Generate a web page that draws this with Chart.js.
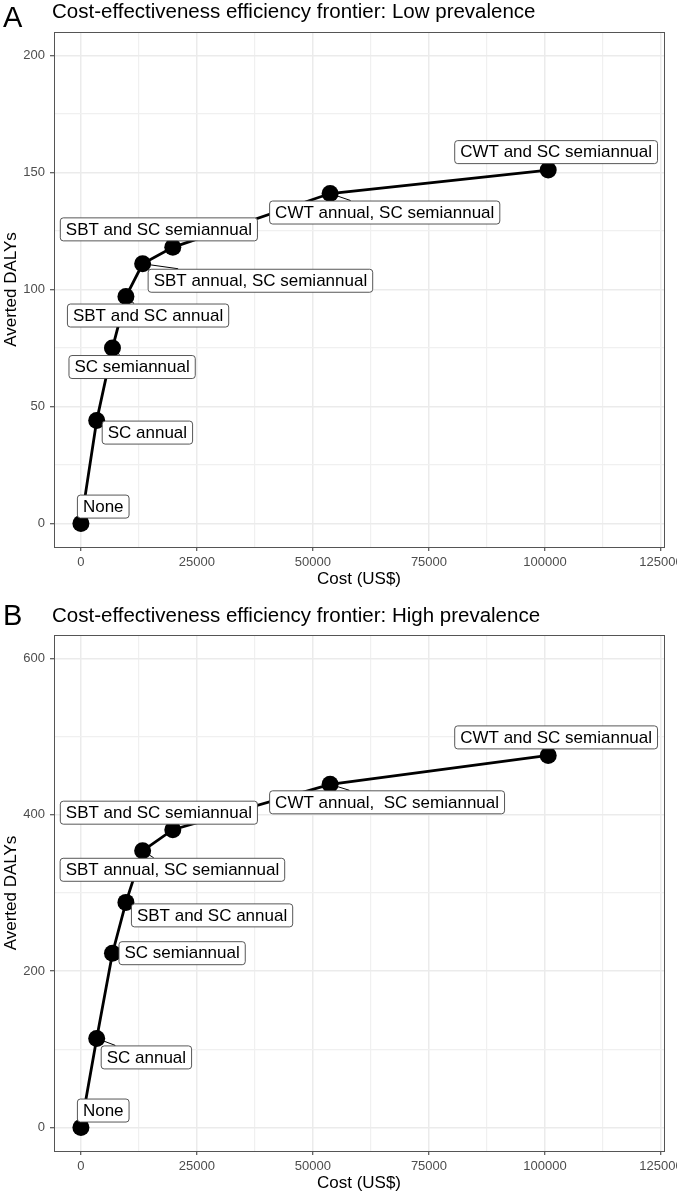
<!DOCTYPE html>
<html>
<head>
<meta charset="utf-8">
<script src="https://cdn.jsdelivr.net/npm/chart.js@4/dist/chart.umd.min.js"></script>
<style>
  html, body { margin: 0; padding: 0; background: #fff; overflow: hidden; width: 677px; height: 1196px; }
  canvas { display: block; }
</style>
</head>
<body>
<canvas id="panelA" width="690" height="592" style="width:690px;height:592px"></canvas>
<canvas id="panelB" width="690" height="604" style="width:690px;height:604px"></canvas>
<script>
// strategies on the efficiency frontier (cost in US$, averted DALYs)
const strategiesLow = ['None', 'SC annual', 'SC semiannual', 'SBT and SC annual',
  'SBT annual, SC semiannual', 'SBT and SC semiannual', 'CWT annual, SC semiannual', 'CWT and SC semiannual'];
const strategiesHigh = ['None', 'SC annual', 'SC semiannual', 'SBT and SC annual',
  'SBT annual, SC semiannual', 'SBT and SC semiannual', 'CWT annual,  SC semiannual', 'CWT and SC semiannual'];
const costUSD = [0, 3400, 6800, 9700, 13300, 19800, 53700, 100700];
const dalysLow = [0, 44, 75, 97, 111, 118, 141, 151];
const dalysHigh = [0, 114, 223, 288, 354, 381, 439, 476];

const xMajor = [0, 25000, 50000, 75000, 100000, 125000];
const xMinor = [12500, 37500, 62500, 87500, 112500];
const yMajorLow = [0, 50, 100, 150, 200];
const yMinorLow = [25, 75, 125, 175];
const yMajorHigh = [0, 200, 400, 600];
const yMinorHigh = [100, 300, 500];

// where ggrepel put each label box: offset of its top-left corner from the point, px
const labelOffsetLow = [[-4, -29], [5, 0], [-44, 7], [-59, 7], [5, 5], [-113, -30], [-61, 7], [-94, -30]];
const labelOffsetHigh = [[-4, -29], [4, 7], [6, -12], [5, 1], [-83, 7], [-113, -29], [-61, 6], [-94, -30]];

const FONT = '"Liberation Sans", Arial, Helvetica, sans-serif';
Chart.defaults.font.family = FONT;
Chart.defaults.color = '#4D4D4D';

function ticksFrom(major, minor) {
  return major.concat(minor).sort((a, b) => a - b).map(v => ({ value: v }));
}

const frontierLabels = {
  id: 'frontierLabels',
  afterDatasetsDraw(chart, args, opts) {
    const { ctx, scales: { x, y } } = chart;
    const ds = chart.data.datasets[0].data;
    ctx.save();
    ctx.font = '17px ' + FONT;
    ctx.textBaseline = 'middle';
    opts.labels.forEach((txt, i) => {
      const px = x.getPixelForValue(ds[i].x);
      const py = y.getPixelForValue(ds[i].y);
      const w = ctx.measureText(txt).width + 11;
      const h = 23;
      const l = px + opts.offsets[i][0];
      const t = py + opts.offsets[i][1];
      // leader segment toward the box centre, clipped at the box edge
      const cx = l + w / 2, cy = t + h / 2;
      const dx = cx - px, dy = cy - py;
      const inside = px >= l && px <= l + w && py >= t && py <= t + h;
      if (!inside) {
        let tt = 1;
        if (dx !== 0) {
          const ex = dx > 0 ? l : l + w;
          const tx = (ex - px) / dx;
          const yy = py + tx * dy;
          if (tx > 0 && yy >= t && yy <= t + h) tt = Math.min(tt, tx);
        }
        if (dy !== 0) {
          const ey = dy > 0 ? t : t + h;
          const ty = (ey - py) / dy;
          const xx = px + ty * dx;
          if (ty > 0 && xx >= l && xx <= l + w) tt = Math.min(tt, ty);
        }
        ctx.beginPath();
        ctx.moveTo(px, py);
        ctx.lineTo(px + tt * dx, py + tt * dy);
        ctx.strokeStyle = '#000';
        ctx.lineWidth = 1;
        ctx.stroke();
      }
      ctx.beginPath();
      ctx.roundRect(l + 0.5, t + 0.5, w, h, 3);
      ctx.fillStyle = '#fff';
      ctx.fill();
      ctx.strokeStyle = '#444';
      ctx.lineWidth = 0.9;
      ctx.stroke();
      ctx.fillStyle = '#000';
      ctx.textAlign = 'left';
      ctx.fillText(txt, l + 6, t + h / 2 + 1);
    });
    ctx.restore();
  },
  afterDraw(chart, args, opts) {
    const { ctx, chartArea: a } = chart;
    ctx.save();
    ctx.strokeStyle = '#555';
    ctx.lineWidth = 1;
    ctx.strokeRect(a.left + 0.5, a.top + 0.5, a.right - a.left, a.bottom - a.top);
    ctx.fillStyle = '#000';
    ctx.textBaseline = 'alphabetic';
    ctx.textAlign = 'left';
    ctx.font = '29px ' + FONT;
    ctx.fillText(opts.letter, 3, opts.letterBase);
    ctx.font = '20.5px ' + FONT;
    ctx.fillText(opts.title, 52, opts.titleBase);
    ctx.restore();
  }
};

function makePanel(id, dalys, labels, offsets, yMin, yMax, yMajor, yMinor, letter, title, topPad, letterBase, titleBase) {
  const isMajorX = v => xMajor.includes(v);
  const isMajorY = v => yMajor.includes(v);
  return new Chart(document.getElementById(id), {
    type: 'scatter',
    data: {
      datasets: [{
        data: costUSD.map((c, i) => ({ x: c, y: dalys[i] })),
        showLine: true,
        borderColor: '#000',
        borderWidth: 2.8,
        backgroundColor: '#000',
        pointBackgroundColor: '#000',
        pointBorderWidth: 0,
        pointRadius: 8.5,
        pointHoverRadius: 8.5
      }]
    },
    options: {
      responsive: false,
      animation: false,
      devicePixelRatio: 1,
      layout: { padding: { left: 0, right: 26, top: topPad, bottom: 0 } },
      plugins: {
        legend: { display: false },
        tooltip: { enabled: false },
        frontierLabels: { labels, offsets, letter, title, letterBase, titleBase }
      },
      scales: {
        x: {
          type: 'linear',
          min: -5800,
          max: 125650,
          afterBuildTicks: s => { s.ticks = ticksFrom(xMajor, xMinor); },
          afterFit: s => { s.height = 45; },
          border: { display: false },
          grid: {
            color: c => isMajorX(c.tick.value) ? '#EBEBEB' : '#F0F0F0',
            lineWidth: c => isMajorX(c.tick.value) ? 1.5 : 1.2,
            tickColor: c => isMajorX(c.tick.value) ? '#333' : 'rgba(0,0,0,0)',
            tickWidth: 1,
            tickLength: 4
          },
          ticks: {
            autoSkip: false, maxRotation: 0, padding: 4,
            font: { size: 13 }, color: '#4D4D4D',
            callback: v => isMajorX(v) ? String(v) : ''
          },
          title: { display: true, text: 'Cost (US$)', color: '#000', font: { size: 17 }, padding: { top: 0, bottom: 2 } }
        },
        y: {
          type: 'linear',
          min: yMin,
          max: yMax,
          afterBuildTicks: s => { s.ticks = ticksFrom(yMajor, yMinor); },
          afterFit: s => { s.width = 54; },
          border: { display: false },
          grid: {
            color: c => isMajorY(c.tick.value) ? '#EBEBEB' : '#F0F0F0',
            lineWidth: c => isMajorY(c.tick.value) ? 1.5 : 1.2,
            tickColor: c => isMajorY(c.tick.value) ? '#333' : 'rgba(0,0,0,0)',
            tickWidth: 1,
            tickLength: 4
          },
          ticks: {
            autoSkip: false, padding: 5,
            font: { size: 13 }, color: '#4D4D4D',
            callback: v => isMajorY(v) ? String(v) : ''
          },
          title: { display: true, text: 'Averted DALYs', color: '#000', font: { size: 17 }, padding: { top: 1, bottom: 0 } }
        }
      }
    },
    plugins: [frontierLabels]
  });
}

makePanel('panelA', dalysLow, strategiesLow, labelOffsetLow, -10, 210, yMajorLow, yMinorLow,
  'A', 'Cost-effectiveness efficiency frontier: Low prevalence', 32, 27, 18);
makePanel('panelB', dalysHigh, strategiesHigh, labelOffsetHigh, -30, 630, yMajorHigh, yMinorHigh,
  'B', 'Cost-effectiveness efficiency frontier: High prevalence', 43, 33, 30);
</script>
</body>
</html>
